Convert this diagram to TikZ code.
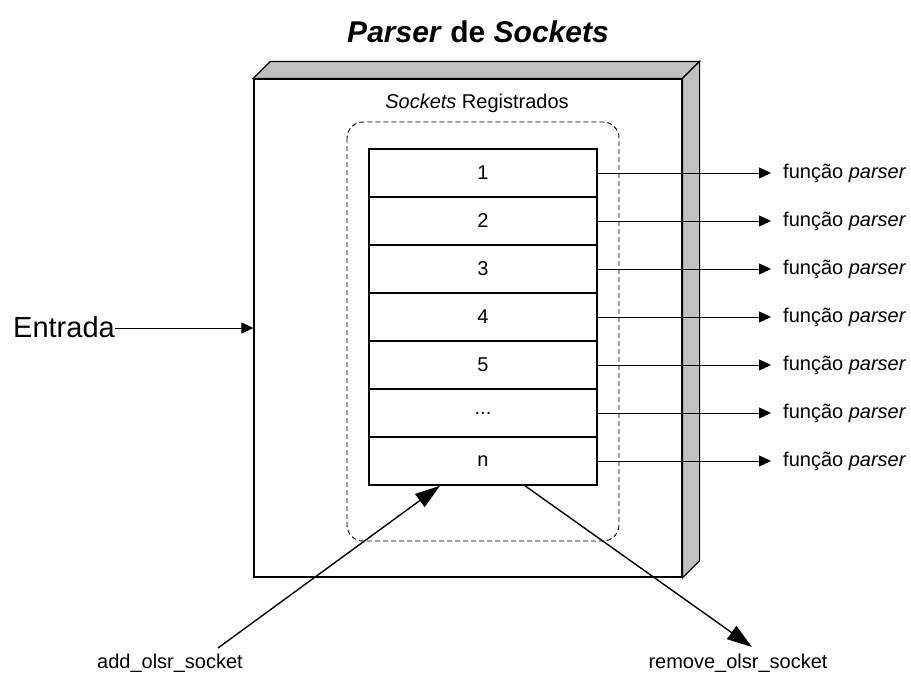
\documentclass[tikz,border=0pt]{standalone}
\usepackage{fontspec}
\setmainfont{Liberation Sans}
\usetikzlibrary{arrows.meta}
\definecolor{sidegray}{RGB}{192,192,192}
\tikzset{
    slot/.style={draw, line width=1.6pt, minimum width=228pt, minimum height=48pt, inner sep=0pt, font=\fontsize{20}{24}\selectfont},
    lbl/.style={inner sep=0pt, font=\fontsize{20}{24}\selectfont},
    arr/.style={line width=0.9pt, -{Triangle[length=12pt,width=11pt]}},
    bigarr/.style={line width=1.4pt, -{Triangle[length=25pt,width=16pt]}},
}
\begin{document}
\begin{tikzpicture}[x=1pt,y=-1pt]
        \useasboundingbox (0,0) rectangle (911,675);
        % title
        \node[font=\fontsize{30}{36}\selectfont\bfseries] (title) at (478,32) {\textit{Parser} de \textit{Sockets}};
        % box with 3D faces
        \node[draw, fill=white, line width=1.2pt, minimum width=428pt, minimum height=498pt] (box) at (468,328) {};
        \draw[fill=sidegray, line width=1.2pt] (box.north west) -- ([shift={(17,-17)}]box.north west) -- ([shift={(17,-17)}]box.north east) -- (box.north east) -- cycle;
        \draw[fill=sidegray, line width=1.2pt] (box.north east) -- ([shift={(17,-17)}]box.north east) -- ([shift={(17,-17)}]box.south east) -- (box.south east) -- cycle;
        \node[lbl] (reg) at (477,103) {\textit{Sockets} Registrados};
        \draw[line width=0.9pt, dash pattern=on 5pt off 3pt, rounded corners=16pt] (347,122) rectangle (619,541);
        % registered sockets and parser functions
        \foreach \i/\t in {1/1,2/2,3/3,4/4,5/5,6/{...},7/n} {
            \node[slot] (r\i) at (483,{125+48*\i}) {\t};
            \node[lbl, anchor=west] (f\i) at (783,{125+48*\i}) {função \textit{parser}};
            \draw[arr, shorten >=12pt] (r\i.east) -- (r\i.east -| f\i.west);
        }
        % input
        \node[inner sep=0pt, anchor=base west, font=\fontsize{29}{34}\selectfont] (in) at (13,337) {Entrada};
        \draw[arr] (in.east |- box.west) -- (box.west);
        % add and remove
        \node[lbl] (add) at (170,663) {add\_olsr\_socket};
        \node[lbl] (rem) at (738,663) {remove\_olsr\_socket};
        \coordinate (addtail) at (218,648);
        \coordinate (remtip) at (752,647);
        \draw[bigarr] (addtail) -- ([xshift=-43pt]r7.south);
        \draw[bigarr] ([xshift=42pt]r7.south) -- (remtip);
\end{tikzpicture}
\end{document}
